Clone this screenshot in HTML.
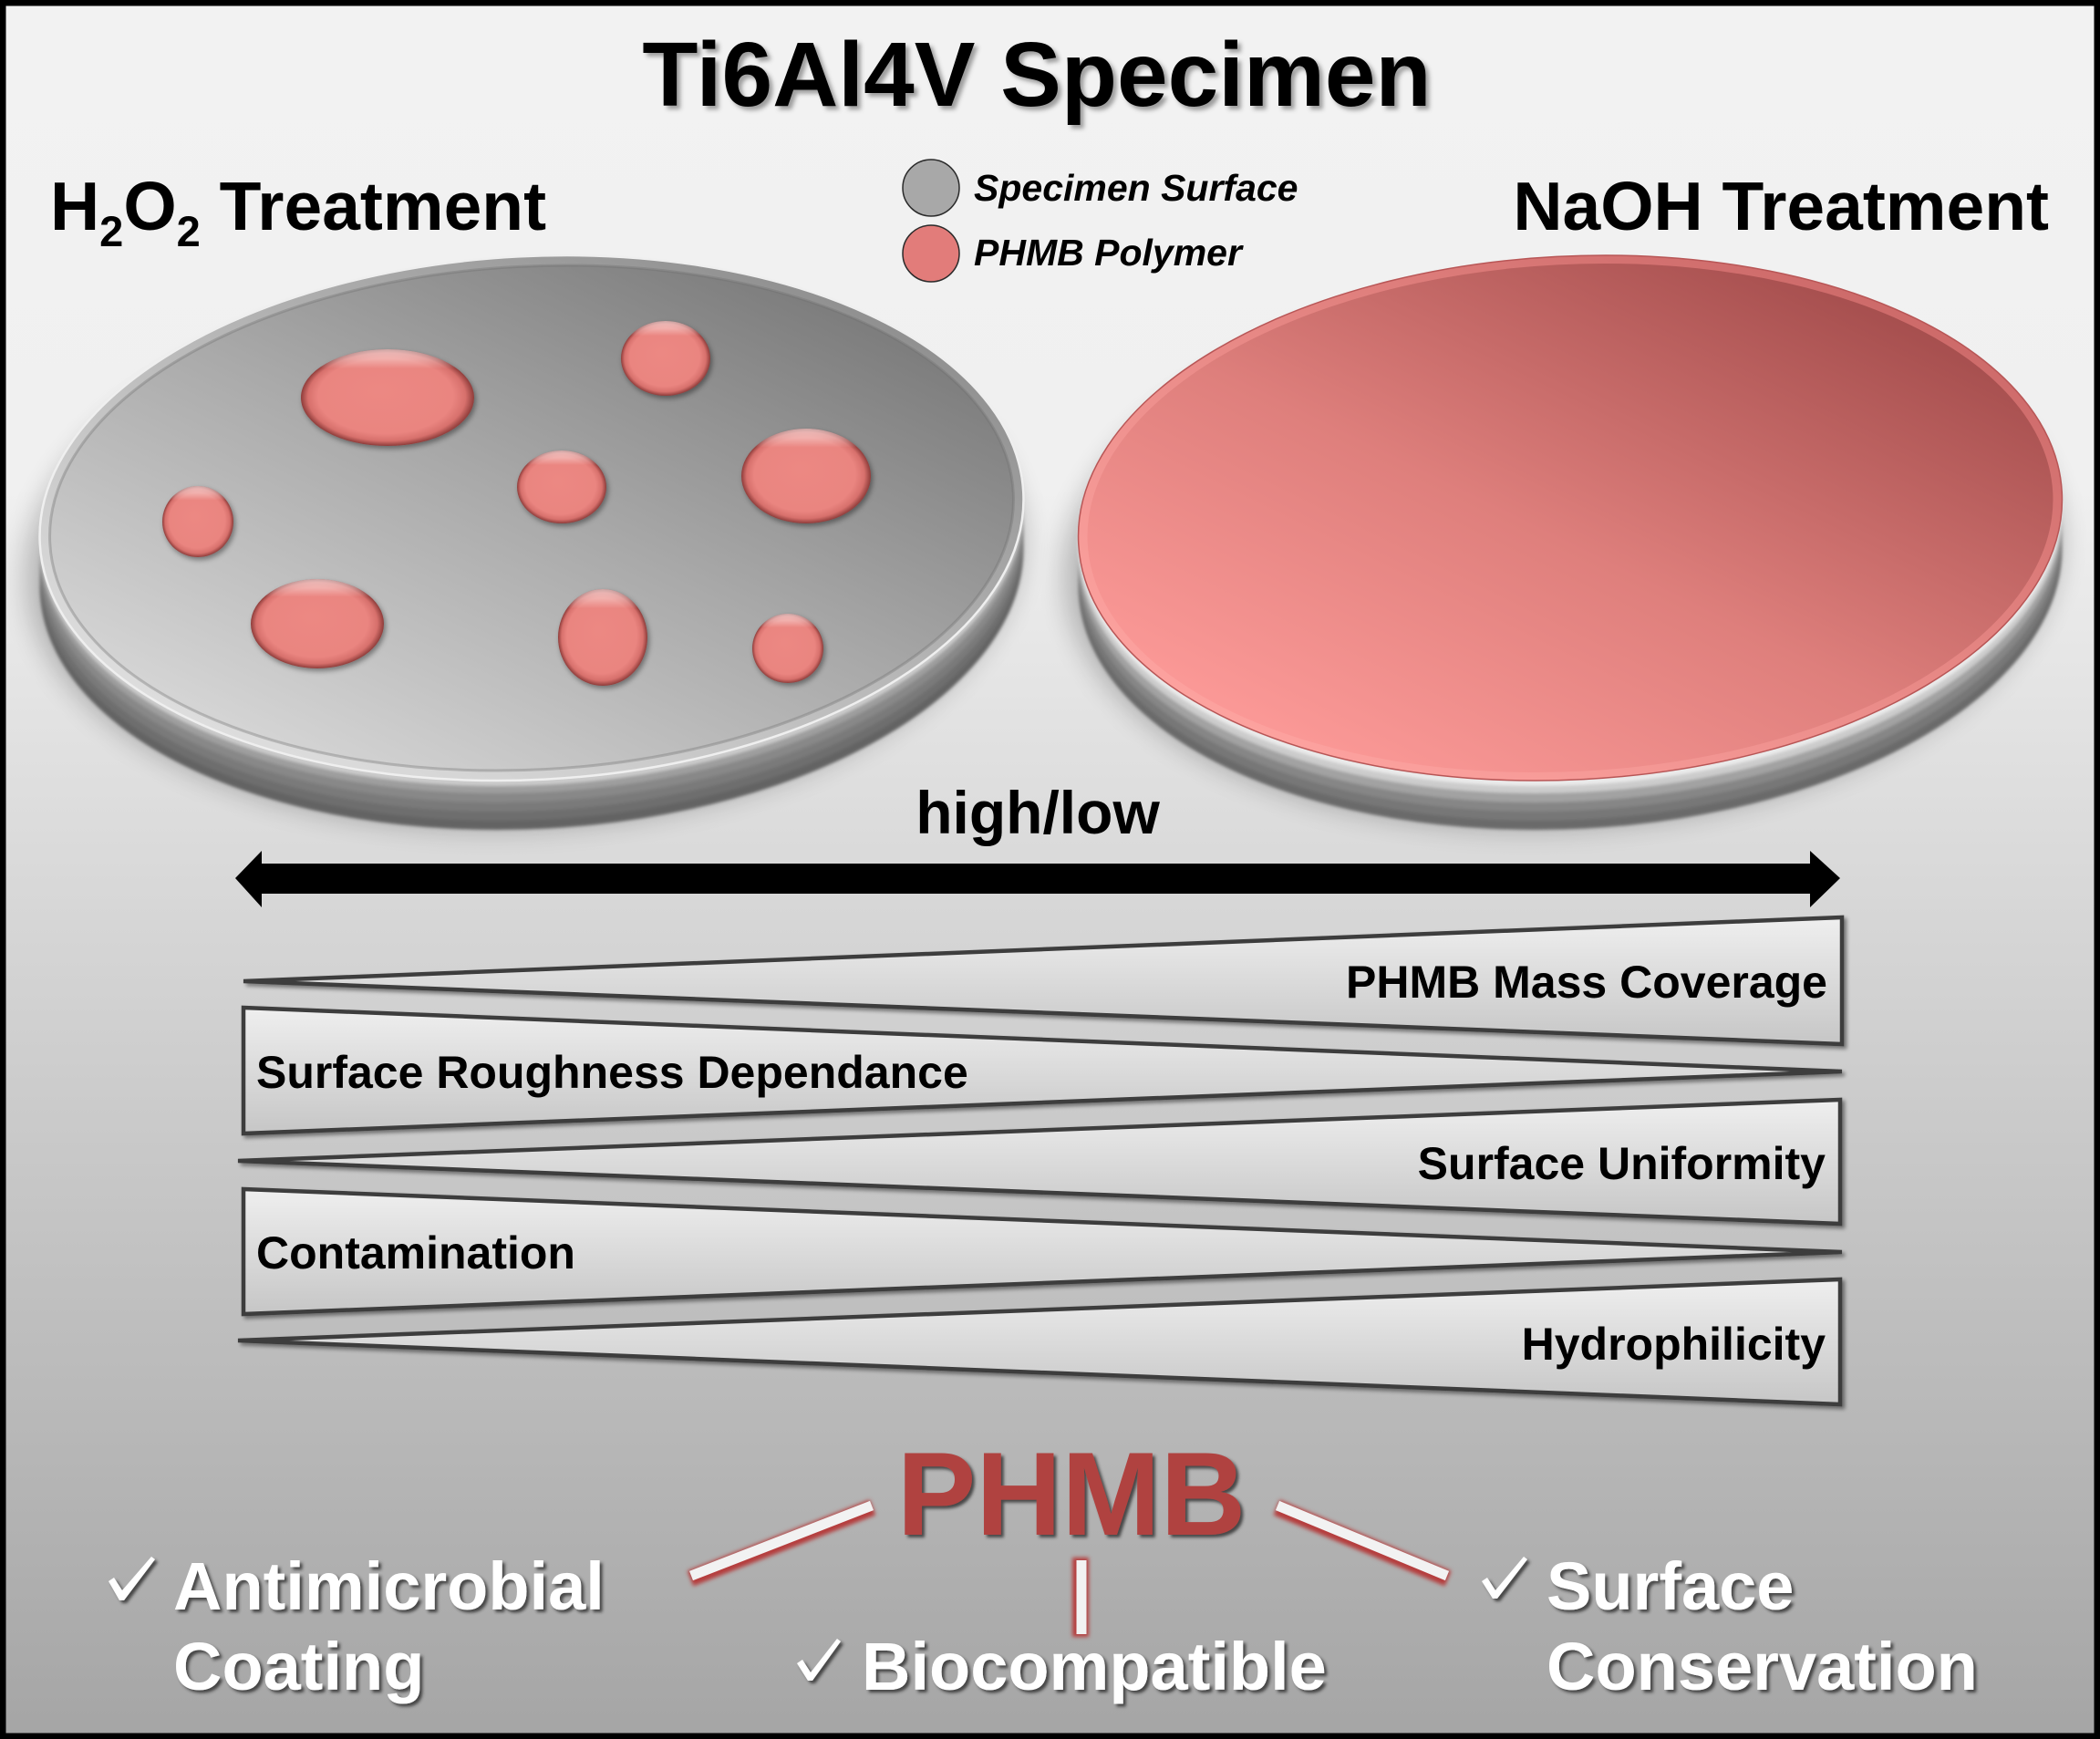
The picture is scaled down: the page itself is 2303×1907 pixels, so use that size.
<!DOCTYPE html>
<html>
<head>
<meta charset="utf-8">
<style>
  html, body { margin: 0; padding: 0; background: #f2f2f2; }
  svg { display: block; }
  text { font-family: "Liberation Sans", Arial, sans-serif; }
</style>
</head>
<body>
<svg width="2303" height="1907" viewBox="0 0 2303 1907" xmlns="http://www.w3.org/2000/svg">
  <defs>
    <linearGradient id="bg" x1="0" y1="0" x2="0" y2="1">
      <stop offset="0" stop-color="#f2f2f2"/>
      <stop offset="0.28" stop-color="#f0f0f0"/>
      <stop offset="1" stop-color="#a5a5a5"/>
    </linearGradient>
    <linearGradient id="grayFace" x1="0.1" y1="0.9" x2="0.95" y2="0.1">
      <stop offset="0" stop-color="#dadada"/>
      <stop offset="0.5" stop-color="#a9a9a9"/>
      <stop offset="1" stop-color="#747474"/>
    </linearGradient>
    <linearGradient id="grayRim" x1="0.1" y1="0.9" x2="0.95" y2="0.1">
      <stop offset="0" stop-color="#e2e2e2"/>
      <stop offset="0.5" stop-color="#b8b8b8"/>
      <stop offset="1" stop-color="#888888"/>
    </linearGradient>
    <linearGradient id="pinkFace" x1="0.1" y1="0.9" x2="0.95" y2="0.1">
      <stop offset="0" stop-color="#ff9c9a"/>
      <stop offset="0.45" stop-color="#de7f7c"/>
      <stop offset="1" stop-color="#9c4646"/>
    </linearGradient>
    <linearGradient id="pinkRim" x1="0.1" y1="0.9" x2="0.95" y2="0.1">
      <stop offset="0" stop-color="#ffa5a2"/>
      <stop offset="0.5" stop-color="#e88986"/>
      <stop offset="1" stop-color="#c86464"/>
    </linearGradient>
    <radialGradient id="blob" cx="0.5" cy="0.5" r="0.5" fx="0.45" fy="0.42">
      <stop offset="0" stop-color="#ec8883"/>
      <stop offset="0.78" stop-color="#ea8580"/>
      <stop offset="0.91" stop-color="#d7706c"/>
      <stop offset="1" stop-color="#8e3c3a"/>
    </radialGradient>
    <linearGradient id="blobHi" x1="0" y1="0" x2="0" y2="1">
      <stop offset="0" stop-color="#ffffff" stop-opacity="0.55"/>
      <stop offset="0.1" stop-color="#ffffff" stop-opacity="0.35"/>
      <stop offset="0.2" stop-color="#ffffff" stop-opacity="0"/>
      <stop offset="1" stop-color="#ffffff" stop-opacity="0"/>
    </linearGradient>
    <linearGradient id="wedge" x1="0" y1="0" x2="0" y2="1">
      <stop offset="0" stop-color="#efefef"/>
      <stop offset="1" stop-color="#c6c6c6"/>
    </linearGradient>
    <filter id="soft" x="-10%" y="-10%" width="120%" height="130%">
      <feGaussianBlur stdDeviation="14"/>
    </filter>
    <filter id="blur2" x="-5%" y="-5%" width="110%" height="110%">
      <feGaussianBlur stdDeviation="1.5"/>
    </filter>
    <filter id="blobSh" x="-30%" y="-30%" width="160%" height="160%">
      <feDropShadow dx="2" dy="3" stdDeviation="3" flood-color="#000" flood-opacity="0.4"/>
    </filter>
    <filter id="wedgeSh" x="-5%" y="-20%" width="110%" height="140%">
      <feDropShadow dx="3" dy="3" stdDeviation="2" flood-color="#000" flood-opacity="0.45"/>
    </filter>
    <filter id="tSh" x="-10%" y="-30%" width="120%" height="160%">
      <feDropShadow dx="4" dy="4" stdDeviation="2.5" flood-color="#000" flood-opacity="0.35"/>
    </filter>
    <filter id="wSh" x="-10%" y="-30%" width="120%" height="160%">
      <feDropShadow dx="3" dy="3" stdDeviation="1.5" flood-color="#2a2a2a" flood-opacity="0.8"/>
    </filter>
    <filter id="redGlow" x="-20%" y="-20%" width="140%" height="140%">
      <feGaussianBlur stdDeviation="2.2"/>
    </filter>
  </defs>

  <!-- background -->
  <rect x="0" y="0" width="2303" height="1907" fill="url(#bg)"/>

  <!-- ===== Left disc (gray, H2O2) ===== -->
  <ellipse cx="575" cy="610" rx="548" ry="300" fill="#000" opacity="0.22" filter="url(#soft)" transform="rotate(-3 575 610)"/>
  <g filter="url(#blur2)">
    <ellipse cx="583" cy="622" rx="540" ry="287" fill="#636363" transform="rotate(-3 583 622)"/>
    <ellipse cx="583" cy="612" rx="540" ry="287" fill="#6e6e6e" transform="rotate(-3 583 612)"/>
    <ellipse cx="583" cy="602" rx="540" ry="287" fill="#7a7a7a" transform="rotate(-3 583 602)"/>
    <ellipse cx="583" cy="592" rx="540" ry="287" fill="#888888" transform="rotate(-3 583 592)"/>
    <ellipse cx="583" cy="582" rx="540" ry="287" fill="#9e9e9e" transform="rotate(-3 583 582)"/>
    <ellipse cx="583" cy="574" rx="540" ry="287" fill="#cacaca" transform="rotate(-3 583 574)"/>
  </g>
  <ellipse cx="583" cy="568" rx="540" ry="287" fill="url(#grayRim)" stroke="#efefef" stroke-width="2.5" transform="rotate(-3 583 568)"/>
  <ellipse cx="583" cy="568" rx="529" ry="276" fill="url(#grayFace)" stroke="#6e6e6e" stroke-opacity="0.35" stroke-width="3" transform="rotate(-3 583 568)"/>

  <!-- blobs -->
  <g filter="url(#blobSh)">
    <ellipse cx="425" cy="436" rx="95" ry="53" fill="url(#blob)"/>
    <ellipse cx="730" cy="393" rx="49" ry="41" fill="url(#blob)"/>
    <ellipse cx="616" cy="534" rx="49" ry="40" fill="url(#blob)"/>
    <ellipse cx="884" cy="522" rx="71" ry="52" fill="url(#blob)"/>
    <ellipse cx="217" cy="572" rx="39" ry="39" fill="url(#blob)"/>
    <ellipse cx="348" cy="684" rx="73" ry="49" fill="url(#blob)"/>
    <ellipse cx="661" cy="699" rx="49" ry="53" fill="url(#blob)"/>
    <ellipse cx="864" cy="711" rx="39" ry="38" fill="url(#blob)"/>
  </g>
  <g>
    <ellipse cx="425" cy="436" rx="95" ry="53" fill="url(#blobHi)"/>
    <ellipse cx="730" cy="393" rx="49" ry="41" fill="url(#blobHi)"/>
    <ellipse cx="616" cy="534" rx="49" ry="40" fill="url(#blobHi)"/>
    <ellipse cx="884" cy="522" rx="71" ry="52" fill="url(#blobHi)"/>
    <ellipse cx="217" cy="572" rx="39" ry="39" fill="url(#blobHi)"/>
    <ellipse cx="348" cy="684" rx="73" ry="49" fill="url(#blobHi)"/>
    <ellipse cx="661" cy="699" rx="49" ry="53" fill="url(#blobHi)"/>
    <ellipse cx="864" cy="711" rx="39" ry="38" fill="url(#blobHi)"/>
  </g>

  <!-- ===== Right disc (pink, NaOH) ===== -->
  <ellipse cx="1714" cy="610" rx="548" ry="300" fill="#000" opacity="0.22" filter="url(#soft)" transform="rotate(-3 1714 610)"/>
  <g filter="url(#blur2)">
    <ellipse cx="1722" cy="622" rx="540" ry="287" fill="#6b6b6b" transform="rotate(-3 1722 622)"/>
    <ellipse cx="1722" cy="612" rx="540" ry="287" fill="#777777" transform="rotate(-3 1722 612)"/>
    <ellipse cx="1722" cy="602" rx="540" ry="287" fill="#868686" transform="rotate(-3 1722 602)"/>
    <ellipse cx="1722" cy="592" rx="540" ry="287" fill="#a2a2a2" transform="rotate(-3 1722 592)"/>
    <ellipse cx="1722" cy="582" rx="540" ry="287" fill="#cccccc" transform="rotate(-3 1722 582)"/>
    <ellipse cx="1722" cy="574" rx="540" ry="287" fill="#eaeaea" transform="rotate(-3 1722 574)"/>
  </g>
  <ellipse cx="1722" cy="568" rx="540" ry="287" fill="url(#pinkRim)" stroke="#b85656" stroke-width="1.5" transform="rotate(-3 1722 568)"/>
  <ellipse cx="1722" cy="568" rx="530" ry="278" fill="url(#pinkFace)" transform="rotate(-3 1722 568)"/>

  <!-- ===== Titles ===== -->
  <text x="1137" y="116" font-size="100" font-weight="bold" text-anchor="middle" fill="#000" filter="url(#tSh)">Ti6Al4V Specimen</text>
  <text x="55" y="252" font-size="75" font-weight="bold" fill="#000">H<tspan font-size="47" dy="18">2</tspan><tspan dy="-18">O</tspan><tspan font-size="47" dy="18">2</tspan><tspan dy="-18">&#160;Treatment</tspan></text>
  <text x="2247" y="252" font-size="75" font-weight="bold" text-anchor="end" fill="#000">NaOH Treatment</text>

  <!-- legend -->
  <circle cx="1021" cy="206" r="31" fill="#a8a8a8" stroke="#2a2a2a" stroke-width="1.5"/>
  <circle cx="1021" cy="278" r="31" fill="#e27c7a" stroke="#2a2a2a" stroke-width="1.5"/>
  <text x="1068" y="220" font-size="41" font-weight="bold" font-style="italic" fill="#000">Specimen Surface</text>
  <text x="1068" y="291" font-size="41" font-weight="bold" font-style="italic" fill="#000">PHMB Polymer</text>

  <!-- high/low double arrow -->
  <text x="1138" y="914" font-size="66" font-weight="bold" text-anchor="middle" fill="#000">high/low</text>
  <polygon points="258,963 287,933 287,947 1985,947 1985,933 2018,963 1985,995 1985,980 287,980 287,995" fill="#000"/>

  <!-- wedges -->
  <g filter="url(#wedgeSh)" stroke="#3c3c3c" stroke-width="4.5" stroke-linejoin="miter" fill="url(#wedge)">
    <polygon points="267,1076 2020,1006 2020,1145"/>
    <polygon points="267,1105 2020,1175 267,1243"/>
    <polygon points="261,1273 2018,1206 2018,1342"/>
    <polygon points="267,1304 2020,1373 267,1441"/>
    <polygon points="261,1470 2018,1403 2018,1540"/>
  </g>
  <g font-size="50" font-weight="bold" fill="#000">
    <text x="2004" y="1094" text-anchor="end">PHMB Mass Coverage</text>
    <text x="281" y="1193">Surface Roughness Dependance</text>
    <text x="2002" y="1293" text-anchor="end">Surface Uniformity</text>
    <text x="281" y="1391">Contamination</text>
    <text x="2002" y="1491" text-anchor="end">Hydrophilicity</text>
  </g>

  <!-- PHMB + connectors -->
  <text x="1175" y="1683" font-size="130" font-weight="bold" text-anchor="middle" fill="#b04340" filter="url(#wSh)">PHMB</text>

  <g filter="url(#redGlow)" stroke="#b53c3c" stroke-width="18" stroke-linecap="butt">
    <line x1="757" y1="1731" x2="957" y2="1653"/>
    <line x1="1400" y1="1653" x2="1588" y2="1731"/>
    <line x1="1185" y1="1708" x2="1185" y2="1795"/>
  </g>
  <g stroke="#f2f2f2" stroke-width="11" stroke-linecap="butt">
    <line x1="758" y1="1728" x2="956" y2="1651"/>
    <line x1="1401" y1="1651" x2="1587" y2="1728"/>
    <line x1="1186" y1="1711" x2="1186" y2="1792"/>
  </g>

  <!-- benefits -->
  <g fill="#ffffff" filter="url(#wSh)">
    <polygon points="119,1734 125,1730 134,1744 166,1707 170,1710 136,1755 131,1755"/>
    <polygon points="874,1824 880,1820 889,1834 918,1797 922,1800 891,1843 886,1843"/>
    <polygon points="1625,1734 1631,1730 1640,1744 1671,1707 1675,1710 1642,1753 1637,1753"/>
    <text x="190" y="1765" font-size="74" font-weight="bold">Antimicrobial</text>
    <text x="190" y="1853" font-size="74" font-weight="bold">Coating</text>
    <text x="945" y="1853" font-size="74" font-weight="bold">Biocompatible</text>
    <text x="1696" y="1765" font-size="74" font-weight="bold">Surface</text>
    <text x="1696" y="1853" font-size="74" font-weight="bold">Conservation</text>
  </g>

  <!-- frame -->
  <rect x="3" y="3" width="2297" height="1901" fill="none" stroke="#000" stroke-width="7"/>
</svg>
</body>
</html>
